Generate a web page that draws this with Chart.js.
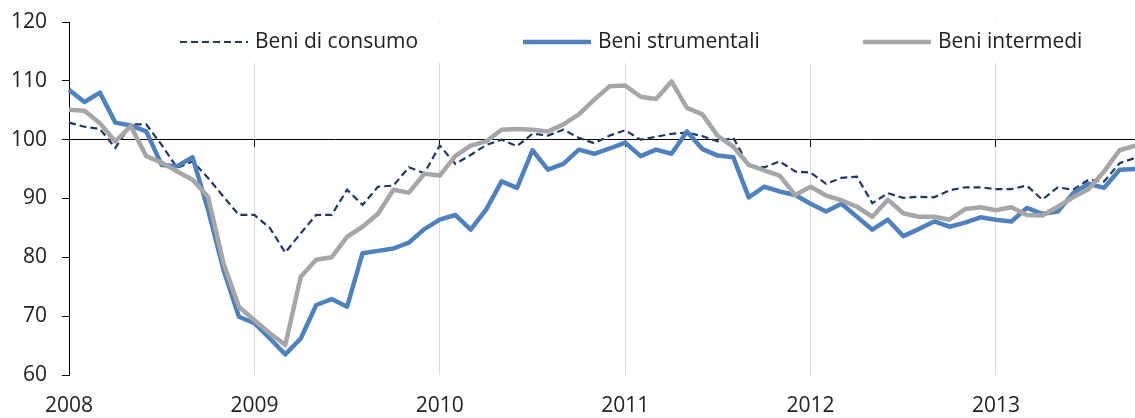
<!DOCTYPE html>
<html>
<head>
<meta charset="utf-8">
<script src="https://cdn.jsdelivr.net/npm/chart.js@4"></script>
<style>
  body { margin: 0; background: #fff; }
  #wrap { width: 1135px; height: 418px; position: relative; }
</style>
</head>
<body>
<div id="wrap"><canvas id="myChart"></canvas></div>
<script>
// monthly data, Jan 2008 - Oct 2013
const years = ["2008", "2009", "2010", "2011", "2012", "2013"]
const months = ["01", "02", "03", "04", "05", "06", "07", "08", "09", "10", "11", "12"]

const consumo = [
	102.9, 102.2, 101.8, 98.6, 102.6, 102.6, 99.1, 95.2, 96.3, 93.5, 90.3, 87.2,
	87.2, 85.0, 80.8, 84.1, 87.2, 87.2, 91.5, 88.9, 92.0, 92.2, 95.3, 94.3,
	99.0, 95.9, 97.4, 99.1, 100.0, 98.9, 101.0, 100.7, 101.7, 100.3, 99.4, 100.7,
	101.6, 100.0, 100.5, 101.0, 101.2, 100.6, 99.7, 100.3, 95.6, 95.3, 96.3, 94.6,
	94.4, 92.5, 93.5, 93.7, 89.2, 90.9, 90.1, 90.3, 90.2, 91.4, 91.9, 91.9,
	91.6, 91.6, 92.2, 89.8, 91.9, 91.5, 93.2, 92.9, 96.0, 96.9
]
const strumentali = [
	108.5, 106.4, 108.0, 102.9, 102.4, 101.4, 95.7, 95.5, 97.0, 88.1, 77.9, 69.9,
	68.8, 66.2, 63.5, 66.2, 71.9, 72.9, 71.6, 80.7, 81.1, 81.5, 82.5, 84.8,
	86.4, 87.2, 84.7, 88.1, 92.9, 91.8, 98.2, 94.9, 95.9, 98.3, 97.6, 98.5,
	99.5, 97.2, 98.3, 97.6, 101.4, 98.4, 97.3, 97.0, 90.2, 92.0, 91.2, 90.6,
	89.1, 87.8, 89.1, 86.9, 84.7, 86.4, 83.6, 84.8, 86.1, 85.2, 85.9, 86.8,
	86.4, 86.1, 88.4, 87.4, 87.8, 90.9, 92.5, 91.8, 94.9, 95.0
]
const intermedi = [
	105.1, 104.9, 102.8, 99.7, 102.3, 97.2, 96.1, 94.6, 93.2, 90.3, 79.0, 71.6,
	69.3, 67.1, 65.1, 76.7, 79.6, 80.0, 83.5, 85.2, 87.4, 91.5, 91.0, 94.2,
	93.9, 97.2, 99.0, 99.7, 101.7, 101.8, 101.7, 101.4, 102.6, 104.3, 106.8, 109.1,
	109.2, 107.3, 106.9, 109.9, 105.4, 104.3, 100.6, 98.8, 95.7, 94.8, 93.9, 90.6,
	92.0, 90.5, 89.7, 88.6, 86.9, 89.8, 87.5, 86.9, 86.9, 86.4, 88.2, 88.5,
	88.0, 88.5, 87.2, 87.1, 88.6, 90.2, 91.6, 94.6, 98.2, 99.0
]
const seriesNames = ["Beni di consumo", "Beni strumentali", "Beni intermedi"]

const categories = []
years.forEach(y => months.forEach(m => categories.push(y + "-" + m)))
categories.splice(consumo.length)

const FONT = "'Open Sans', sans-serif"
const TEXT = "#222"

// legend drawn like the excel one: white box over the plot top
const legendX = [180, 523, 863]
const legendPlugin = {
	id: "boxLegend",
	afterDraw(chart) {
		const ctx = chart.ctx
		const y = 42
		ctx.save()
		ctx.fillStyle = "#fff"
		ctx.fillRect(170, chart.chartArea.top + 1, 930, 40)
		chart.data.datasets.forEach((ds, i) => {
			const x = legendX[i]
			ctx.beginPath()
			ctx.strokeStyle = ds.borderColor
			ctx.lineWidth = ds.borderWidth
			ctx.setLineDash(ds.borderDash || [])
			ctx.moveTo(x, y)
			ctx.lineTo(x + 68, y)
			ctx.stroke()
			ctx.setLineDash([])
			ctx.fillStyle = TEXT
			ctx.font = "21px " + FONT
			ctx.textBaseline = "middle"
			ctx.textAlign = "left"
			ctx.fillText(ds.label, x + 75, y)
		})
		ctx.restore()
	}
}

const chart = new Chart("myChart", {
	type: "line",
	data: {
		labels: categories,
		datasets: [
			{
				label: seriesNames[0],
				data: consumo,
				borderColor: "#1f3864",
				borderWidth: 2.2,
				borderDash: [7, 4],
				pointRadius: 0,
				fill: false,
				order: 3
			},
			{
				label: seriesNames[1],
				data: strumentali,
				borderColor: "#4f81bd",
				borderWidth: 4.5,
				borderJoinStyle: "round",
				pointRadius: 0,
				fill: false,
				order: 2
			},
			{
				label: seriesNames[2],
				data: intermedi,
				borderColor: "#a6a6a6",
				borderWidth: 4.5,
				borderJoinStyle: "round",
				pointRadius: 0,
				fill: false,
				order: 1
			}
		]
	},
	options: {
		responsive: true,
		maintainAspectRatio: false,
		animation: false,
		layout: { padding: { top: 22, left: 11, right: 0, bottom: 0 } },
		plugins: {
			legend: { display: false },
			tooltip: { enabled: false }
		},
		scales: {
			x: {
				type: "category",
				position: "bottom",
				border: { display: false },
				grid: {
					color: c => (c.index % 12 === 0 ? "#d9d9d9" : "transparent"),
					drawTicks: false
				},
				ticks: {
					autoSkip: false,
					maxRotation: 0,
					padding: 18,
					color: TEXT,
					font: { family: FONT, size: 21 },
					callback: (v, idx) => (idx % 12 === 0 ? categories[idx].slice(0, 4) : "")
				},
				afterFit: s => {
					s.height = 43
					s.paddingLeft = 0
					s.paddingRight = 0
				}
			},
			x100: {
				type: "category",
				axis: "x",
				position: { y: 100 },
				border: { display: true, color: "#000", width: 1 },
				grid: {
					drawOnChartArea: false,
					tickLength: 7,
					tickColor: c => (c.index % 12 === 0 ? "#000" : "transparent")
				},
				ticks: { display: false, autoSkip: false },
				afterFit: s => {
					s.height = 0
					s.paddingLeft = 0
					s.paddingRight = 0
				}
			},
			y: {
				min: 60,
				max: 120,
				border: { display: true, color: "#000", width: 1 },
				grid: {
					drawOnChartArea: false,
					tickLength: 7,
					tickColor: "#000"
				},
				ticks: {
					stepSize: 10,
					padding: 15,
					color: TEXT,
					font: { family: FONT, size: 21 }
				},
				afterFit: s => {
					s.width = 58
					s.paddingTop = 0
					s.paddingBottom = 0
				}
			}
		}
	},
	plugins: [legendPlugin]
})
</script>
</body>
</html>
